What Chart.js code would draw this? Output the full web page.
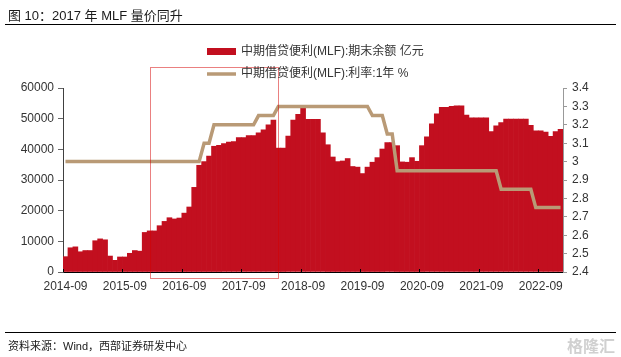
<!DOCTYPE html>
<html>
<head>
<meta charset="utf-8">
<script src="https://cdn.jsdelivr.net/npm/chart.js@4/dist/chart.umd.min.js"></script>
<style>
  html, body { margin:0; padding:0; background:#fff; width:621px; height:357px; overflow:hidden; }
  #wrap { position:relative; width:621px; height:357px; }
  canvas { position:absolute; left:0; top:0; }
  .title { position:absolute; left:8px; top:5px; font:13px "Liberation Sans","Noto Sans CJK SC",sans-serif; color:#1a1a1a; white-space:nowrap; }
  .rule { position:absolute; left:5px; width:611px; height:0; border-top:1px solid #000; }
  .src { position:absolute; left:8px; top:337px; font:11px "Liberation Sans","Noto Sans CJK SC",sans-serif; color:#1a1a1a; white-space:nowrap; }
  .wm { position:absolute; right:6px; top:333px; font:bold 16px "Noto Sans CJK SC",sans-serif; color:#d0d0d0; white-space:nowrap; }
</style>
</head>
<body>
<div id="wrap">
  <canvas id="c" width="621" height="357"></canvas>
  <div class="title">图 10：2017 年 MLF 量价同升</div>
  <div class="rule" style="top:24px"></div>
  <div class="rule" style="top:332px"></div>
  <div class="src">资料来源：Wind，西部证券研发中心</div>
  <div class="wm">格隆汇</div>
</div>
<script>
// ---- data ----
const startYear = 2014, startMonth = 9, monthCount = 101;
const categories = [];
for (let i = 0; i < monthCount; i++) {
  const m = startMonth - 1 + i;
  const y = startYear + Math.floor(m / 12);
  const mm = (m % 12) + 1;
  categories.push(y + '-' + String(mm).padStart(2, '0'));
}
const tickLabels = ['2014-09','2015-09','2016-09','2017-09','2018-09','2019-09','2020-09','2021-09','2022-09'];

const barName = '中期借贷便利(MLF):期末余额 亿元';
const lineName = '中期借贷便利(MLF):利率:1年 %';

const balance = [
  5000, 7900, 8200, 6600, 7000, 7000, 10200, 10800, 10500, 5200, 3800, 4900,
  4900, 6100, 7000, 6800, 12900, 13400, 13400, 15100, 16500, 17700, 17300, 17600,
  19200, 21200, 27600, 34800, 36000, 37800, 41000, 41300, 41900, 42400, 42500, 43800,
  43800, 44500, 44500, 45400, 46400, 48000, 49500, 40400, 40400, 44300, 49500, 51400,
  53500, 49800, 49800, 49800, 45400, 41500, 37500, 36000, 36200, 37000, 34400, 34200,
  32100, 34200, 35800, 37300, 40100, 42200, 42200, 41200, 35900, 35800, 37300, 36100,
  41200, 44100, 48300, 51600, 53700, 53700, 54000, 54200, 54200, 51200, 50300, 50300,
  50300, 50300, 45800, 47700, 48700, 49900, 49900, 49900, 49900, 49900, 47800, 46000,
  46000, 45600, 44200, 45800, 46500
];
const rate = [
  3.0, 3.0, 3.0, 3.0, 3.0, 3.0, 3.0, 3.0, 3.0, 3.0, 3.0, 3.0,
  3.0, 3.0, 3.0, 3.0, 3.0, 3.0, 3.0, 3.0, 3.0, 3.0, 3.0, 3.0,
  3.0, 3.0, 3.0, 3.0, 3.1, 3.1, 3.2, 3.2, 3.2, 3.2, 3.2, 3.2,
  3.2, 3.2, 3.2, 3.25, 3.25, 3.25, 3.25, 3.3, 3.3, 3.3, 3.3, 3.3,
  3.3, 3.3, 3.3, 3.3, 3.3, 3.3, 3.3, 3.3, 3.3, 3.3, 3.3, 3.3,
  3.3, 3.3, 3.25, 3.25, 3.25, 3.15, 3.15, 2.95, 2.95, 2.95, 2.95, 2.95,
  2.95, 2.95, 2.95, 2.95, 2.95, 2.95, 2.95, 2.95, 2.95, 2.95, 2.95, 2.95,
  2.95, 2.95, 2.95, 2.95, 2.85, 2.85, 2.85, 2.85, 2.85, 2.85, 2.85, 2.75,
  2.75, 2.75, 2.75, 2.75, 2.75
];
// highlight box (category index span, left-axis value span)
const boxFrom = 17.1, boxTo = 42.9, boxTopVal = 66700, boxBottomVal = -2100;

const barColor = '#c20f1f';
const lineColor = '#b99a76';
const FONT = '"Liberation Sans","Noto Sans CJK SC",sans-serif';

const overlay = {
  id: 'overlay',
  afterDatasetsDraw(chart) {
    const ctx = chart.ctx, xs = chart.scales.x, ys = chart.scales.y;
    ctx.save();
    ctx.strokeStyle = '#000'; ctx.lineWidth = 1;
    const half = (xs.getPixelForValue(1) - xs.getPixelForValue(0)) / 2;
    categories.forEach((c, i) => {
      if (tickLabels.includes(c)) {
        const x = Math.round(xs.getPixelForValue(i) - half) + 0.5;
        ctx.beginPath(); ctx.moveTo(x, ys.bottom); ctx.lineTo(x, ys.bottom - 3); ctx.stroke();
      }
    });
    const x0 = Math.round(xs.getPixelForValue(boxFrom)) + 0.5;
    const x1 = Math.round(xs.getPixelForValue(boxTo)) + 0.5;
    const y0 = Math.round(ys.getPixelForValue(boxTopVal)) + 0.5;
    const y1 = Math.round(ys.getPixelForValue(boxBottomVal)) + 0.5;
    ctx.strokeStyle = '#d40000'; ctx.setLineDash([1, 1]);
    ctx.strokeRect(x0, y0, x1 - x0, y1 - y0);
    ctx.restore();
  },
  afterDraw(chart) {
    const ctx = chart.ctx;
    ctx.save();
    ctx.font = '12px ' + FONT;
    ctx.textBaseline = 'middle';
    ctx.fillStyle = barColor;
    ctx.fillRect(207, 48, 29, 7);
    ctx.fillStyle = '#333';
    ctx.fillText(barName, 241, 52);
    ctx.strokeStyle = lineColor; ctx.lineWidth = 3.5;
    ctx.beginPath(); ctx.moveTo(207, 74); ctx.lineTo(236, 74); ctx.stroke();
    ctx.fillText(lineName, 241, 74);
    ctx.restore();
  }
};

new Chart(document.getElementById('c'), {
  data: {
    labels: categories,
    datasets: [
      { type: 'line', label: lineName, data: rate, yAxisID: 'y1', borderColor: lineColor,
        borderWidth: 3.5, pointRadius: 0, tension: 0, order: 0, fill: false },
      { type: 'bar', label: barName, data: balance, yAxisID: 'y', backgroundColor: barColor,
        borderWidth: 0, barPercentage: 1, categoryPercentage: 1, order: 1 }
    ]
  },
  options: {
    responsive: false,
    devicePixelRatio: 1,
    animation: false,
    layout: { padding: { top: 88, bottom: 57, left: 0, right: 0 } },
    plugins: { legend: { display: false }, tooltip: { enabled: false } },
    scales: {
      x: {
        grid: { display: false, drawTicks: false },
        border: { display: true, color: '#000', width: 1 },
        ticks: { autoSkip: false, maxRotation: 0, minRotation: 0, padding: 7,
          font: { size: 12, family: FONT }, color: '#333',
          callback: (v, i) => tickLabels.includes(categories[i]) ? categories[i] : '' },
        afterFit(s) { s.height = 28; }
      },
      y: {
        position: 'left', min: 0, max: 60000,
        ticks: { stepSize: 10000, padding: 4, font: { size: 12, family: FONT }, color: '#333',
          callback: v => String(v) },
        grid: { drawOnChartArea: false, tickLength: 5, color: '#666' },
        border: { color: '#404040', width: 1 },
        afterFit(s) { s.width = 63; }
      },
      y1: {
        position: 'right', min: 2.4, max: 3.4,
        ticks: { stepSize: 0.1, padding: 5, font: { size: 12, family: FONT }, color: '#333',
          callback: v => String(Number(v.toFixed(2))) },
        grid: { drawOnChartArea: false, tickLength: 4, color: '#999' },
        border: { color: '#999', width: 1 },
        afterFit(s) { s.width = 58; }
      }
    }
  },
  plugins: [overlay]
});
</script>
</body>
</html>
